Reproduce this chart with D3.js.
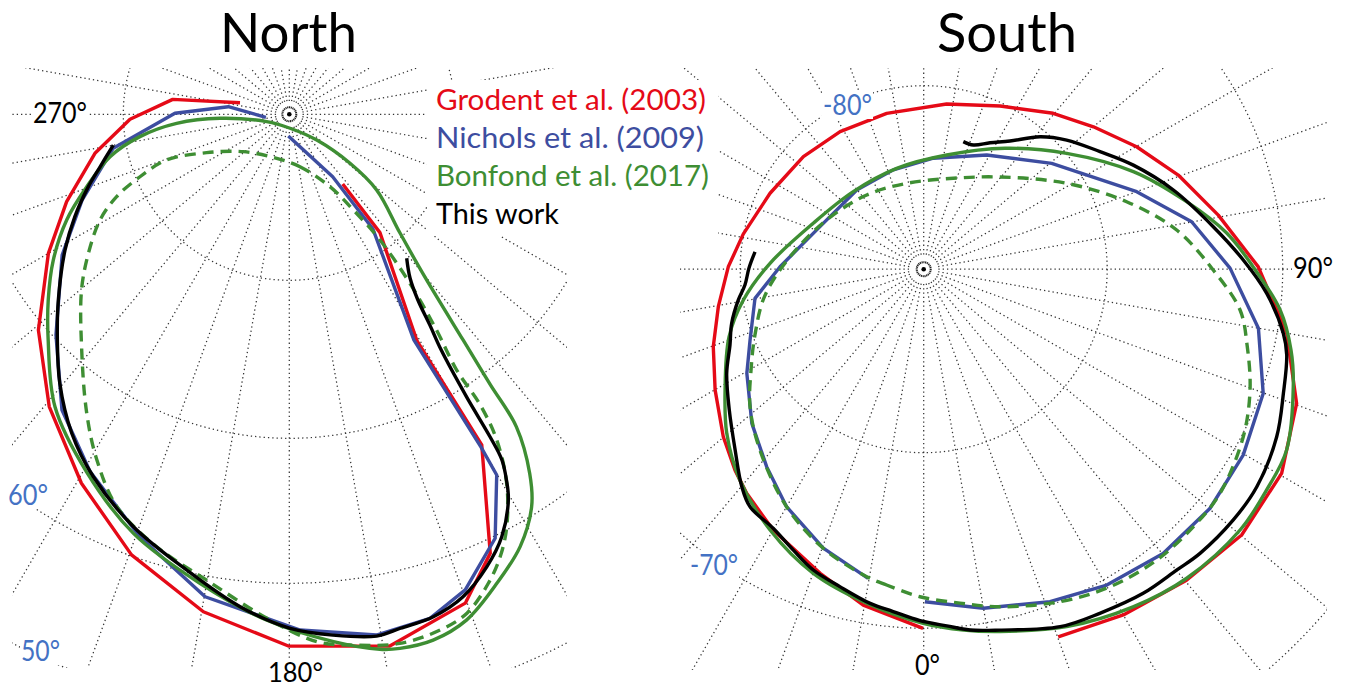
<!DOCTYPE html>
<html><head><meta charset="utf-8">
<script src="https://cdn.jsdelivr.net/npm/d3@7"></script>
<style>
html,body{margin:0;padding:0;background:#fff;}
svg{display:block;}
text{font-family:Lato,"Open Sans",sans-serif;}
</style>
</head><body>
<svg id="chart" width="1346" height="688"></svg>
<script>
// ---------------- DATA (longitude °, latitude °) ----------------
const seriesNames = ["Grodent et al. (2003)", "Nichols et al. (2009)", "Bonfond et al. (2017)", "This work"];
const meridianLons = d3.range(0, 360, 10);
const northLatTicks = [80, 70, 60, 50];
const southLatTicks = [-80, -70, -60];
const northLonLabels = ["270°", "180°"];
const northLatLabels = ["60°", "50°"];
const southLonLabels = ["90°", "0°"];
const southLatLabels = ["-80°", "-70°"];

const northGrodent = [[283.2,86.95],[277.3,82.92],[268.2,80.40],[258.65,77.96],[248.6,75.37],[240.0,72.90],[229.3,69.52],[219.4,66.26],[209.4,63.14],[199.7,60.07],[189.8,57.20],[180.1,55.10],[169.3,54.36],[160.2,56.05],[155.4,58.93],[149.8,65.96],[150.6,74.04],[142.55,81.02],[142.55,84.71]];
const northNichols = [[262.7,88.58],[277.1,86.30],[270.5,83.11],[259.1,79.16],[247.5,76.31],[238.2,73.59],[226.6,70.18],[217.55,66.62],[209.1,64.12],[199.45,61.43],[189.9,58.38],[178.8,56.34],[170.5,55.39],[164.4,55.76],[159.7,57.02],[154.1,59.82],[150.1,63.65],[150.05,65.86],[151.1,74.18],[143.9,81.45],[145.2,85.42],[182.6,88.69]];
const northBonfond = [[177.1,89.16],[133.2,87.73],[128.9,85.30],[130.9,83.04],[137.0,80.22],[140.2,77.09],[142.4,72.48],[143.35,69.16],[144.0,65.70],[146.2,62.54],[148.3,60.54],[151.9,58.35],[156.1,56.58],[160.7,54.77],[164.7,54.05],[168.3,54.03],[170.4,54.25],[175.2,55.30],[182.6,57.09],[190.8,59.34],[200.4,61.51],[209.6,64.01],[218.7,66.50],[226.9,69.57],[232.4,71.25],[238.3,72.95],[244.6,74.91],[250.3,76.89],[256.7,78.85],[261.5,80.90],[265.4,83.19],[266.7,85.82],[251.9,88.57]];
const northBonfondDashed = [[196.0,87.24],[168.5,86.78],[150.7,85.0],[146.2,83.07],[144.2,80.66],[144.5,77.36],[145.7,73.97],[146.8,71.16],[146.7,68.37],[147.5,65.72],[149.5,62.81],[152.2,60.19],[154.5,58.36],[157.0,56.84],[160.4,55.27],[163.7,54.66],[168.2,54.41],[173.5,54.91],[177.0,55.38],[182.6,57.25],[190.1,59.69],[197.05,61.15],[203.7,62.78],[209.1,65.06],[214.1,67.43],[221.8,70.78],[229.8,73.29],[235.3,75.04],[240.8,76.78],[244.5,78.40],[247.3,80.25],[249.6,82.12],[245.1,84.51],[230.9,86.43]];
const northThisWork = [[140.8,78.75],[143.6,77.63],[145.3,76.21],[146.3,74.47],[147.2,72.77],[147.9,69.34],[148.1,66.15],[148.4,64.37],[149.3,63.01],[150.4,61.76],[153.3,59.70],[156.4,58.08],[160.2,56.58],[164.0,55.81],[167.8,55.56],[170.5,55.31],[175.2,55.81],[179.9,56.48],[185.7,57.98],[192.7,60.13],[200.7,61.94],[208.4,63.93],[214.3,65.72],[220.5,67.97],[225.8,70.03],[231.2,71.75],[238.8,73.91],[244.5,75.47],[250.2,76.99],[254.5,78.08],[260.1,79.20]];

const southGrodent = [[359.9,-69.99],[349.8,-71.01],[341.2,-72.15],[330.0,-73.30],[321.7,-74.18],[316.8,-74.75],[309.9,-75.57],[300.1,-76.72],[290.2,-77.68],[280.35,-78.56],[269.3,-79.32],[259.0,-79.98],[243.7,-80.66],[226.9,-81.02],[211.3,-81.23],[193.35,-81.27],[172.1,-80.91],[154.9,-80.18],[140.3,-78.91],[130.0,-77.83],[119.9,-76.46],[110.3,-74.99],[100.4,-73.39],[90.4,-71.39],[80.0,-69.43],[70.2,-67.79],[60.3,-66.86],[50.1,-66.72],[40.2,-67.15],[30.0,-67.62],[20.1,-68.08]];
const southNichols = [[0.2,-71.51],[10.0,-70.84],[20.8,-70.19],[30.1,-69.64],[40.1,-69.25],[50.1,-69.17],[59.8,-69.37],[69.9,-69.85],[80.0,-71.09],[90.2,-73.00],[100.05,-74.95],[110.0,-77.54],[129.6,-80.95],[151.1,-82.89],[175.05,-83.93],[197.0,-84.34],[220.2,-84.35],[247.7,-83.89],[269.0,-82.17],[279.8,-80.67],[292.2,-79.77],[300.5,-78.76],[311.9,-77.30],[321.5,-76.08],[330.0,-74.83],[340.2,-73.56],[349.8,-72.56]];
const southBonfond = [[359.9,-70.28],[350.3,-71.15],[340.05,-72.02],[329.5,-73.21],[318.9,-74.52],[309.8,-75.85],[301.3,-77.21],[289.2,-78.71],[279.7,-80.03],[267.8,-81.62],[247.4,-83.48],[222.25,-84.29],[195.0,-84.31],[168.6,-83.65],[146.1,-82.06],[129.0,-79.97],[114.95,-77.28],[104.4,-74.99],[96.8,-73.07],[90.4,-71.68],[83.5,-70.02],[77.6,-68.99],[72.4,-68.30],[63.5,-67.25],[57.2,-67.11],[50.5,-66.98],[40.4,-67.23],[31.8,-67.73],[21.8,-68.46],[11.9,-69.33],[6.3,-69.76]];
const southBonfondDashed = [[359.35,-71.79],[353.3,-72.34],[349.5,-72.64],[340.2,-73.56],[330.0,-74.83],[317.8,-76.56],[308.4,-77.83],[300.3,-79.06],[291.3,-80.13],[279.6,-81.21],[264.7,-82.68],[243.1,-84.07],[217.5,-84.90],[191.2,-85.23],[162.0,-84.79],[140.4,-83.48],[121.0,-80.91],[108.4,-78.27],[98.8,-75.87],[89.8,-73.95],[82.65,-72.28],[76.8,-71.53],[69.7,-70.63],[62.3,-69.89],[52.9,-69.26],[46.3,-69.18],[38.7,-69.19],[30.4,-69.46],[22.3,-69.98],[12.7,-70.74],[6.2,-71.32]];
const southThisWork = [[264.1,-80.76],[269.6,-80.48],[275.05,-80.22],[279.4,-79.75],[285.7,-79.09],[291.4,-78.60],[297.85,-77.76],[305.9,-76.78],[313.8,-75.57],[320.1,-74.30],[323.8,-73.69],[329.9,-73.38],[335.1,-72.81],[339.85,-72.20],[345.2,-71.75],[350.9,-71.17],[354.9,-70.87],[359.4,-70.43],[3.7,-70.09],[7.3,-69.72],[11.9,-69.42],[20.9,-68.60],[27.1,-68.37],[34.1,-68.08],[40.1,-67.98],[44.2,-67.79],[51.0,-67.67],[56.85,-67.70],[64.6,-68.12],[71.0,-68.73],[76.7,-69.17],[79.9,-69.63],[86.0,-70.87],[91.65,-72.24],[98.35,-73.78],[107.6,-75.53],[116.4,-77.12],[123.7,-78.38],[132.1,-79.48],[138.7,-80.39],[146.05,-81.58],[152.3,-82.22],[158.2,-82.71],[162.75,-82.72]];

// ---------------- LAYOUT / STYLE ----------------
const colors = {red:"#E50A17", blue:"#3D4DA0", green:"#3E8E33", black:"#000000", axisBlue:"#4472C4"};
const svg = d3.select("#chart");

function polar(cfg) {
  const r = d3.scaleLinear().domain(cfg.latDomain).range(cfg.rRange);
  const p = ([lon, lat]) => {
    const a = (cfg.sign * lon + cfg.offset) * Math.PI / 180, rr = r(lat);
    return [cfg.cx + rr * Math.cos(a), cfg.cy + rr * Math.sin(a)];
  };
  p.r = r; p.cx = cfg.cx; p.cy = cfg.cy;
  return p;
}
const PN = polar({cx:289.3, cy:114.3, latDomain:[90,80,70,60,50], rRange:[0,166,324,469,597], sign:1, offset:-90});
const PS = polar({cx:923.7, cy:269.2, latDomain:[-90,-80,-70,-60], rRange:[0,183.5,359,528], sign:-1, offset:90});

const defs = svg.append("defs");
defs.append("clipPath").attr("id","clipN").append("rect").attr("x",12).attr("y",68).attr("width",555).attr("height",600);
defs.append("clipPath").attr("id","clipS").append("rect").attr("x",680).attr("y",68).attr("width",647).attr("height",602);

function drawGrid(P, clipId, latTicks, latInner, latOuter) {
  const g = svg.append("g").attr("clip-path", `url(#${clipId})`)
    .attr("fill","none").attr("stroke","#333").attr("stroke-width",1.25).attr("stroke-dasharray","1.3 3");
  g.selectAll("circle").data(latTicks).join("circle")
    .attr("cx",P.cx).attr("cy",P.cy).attr("r",d=>P.r(d));
  g.selectAll("line").data(meridianLons).join("line")
    .attr("x1",d=>P([d,latInner])[0]).attr("y1",d=>P([d,latInner])[1])
    .attr("x2",d=>P([d,latOuter])[0]).attr("y2",d=>P([d,latOuter])[1]);
  svg.append("circle").attr("cx",P.cx).attr("cy",P.cy).attr("r",7)
    .attr("fill","none").attr("stroke","#222").attr("stroke-width",2).attr("stroke-dasharray","1.2 0.6");
  svg.append("circle").attr("cx",P.cx).attr("cy",P.cy).attr("r",2.3).attr("fill","#000");
}
drawGrid(PN, "clipN", northLatTicks, 89.2, 50);
drawGrid(PS, "clipS", southLatTicks, -89.2, -60);

// legend background (hides grid)
svg.append("rect").attr("x",427).attr("y",80).attr("width",291).attr("height",156).attr("fill","#fff");

function drawSeries(P, data, color, opts) {
  const line = d3.line().x(d=>P(d)[0]).y(d=>P(d)[1]).curve(opts.curve || d3.curveLinear);
  svg.append("path").datum(data).attr("d", line)
    .attr("fill","none").attr("stroke",color).attr("stroke-width",3.4)
    .attr("stroke-linejoin","round").attr("stroke-dasharray", opts.dash || null);
}
[[PN, northGrodent, northNichols, northBonfondDashed, northBonfond, northThisWork],
 [PS, southGrodent, southNichols, southBonfondDashed, southBonfond, southThisWork]].forEach(([P, gr, ni, bd, bo, tw]) => {
  drawSeries(P, gr, colors.red, {});
  drawSeries(P, ni, colors.blue, {});
  drawSeries(P, bd, colors.green, {curve:d3.curveCatmullRomClosed.alpha(0.5), dash:"11 7"});
  drawSeries(P, bo, colors.green, {curve:d3.curveCatmullRomClosed.alpha(0.5)});
  drawSeries(P, tw, colors.black, {curve:d3.curveCatmullRom.alpha(0.5)});
});

// text helper
function label(txt, x, y, size, color, width, bg) {
  const g = svg.append("g");
  const t = g.append("text").attr("x",x).attr("y",y).attr("font-size",size).attr("fill",color).text(txt);
  if (width) t.attr("textLength",width).attr("lengthAdjust","spacingAndGlyphs");
  if (bg) {
    const b = t.node().getBBox();
    g.insert("rect","text").attr("x",b.x-1).attr("y",b.y+3).attr("width",b.width+2).attr("height",b.height-5).attr("fill","#fff");
  }
  return t;
}
// titles
label("North", 220, 52, 54, "#000", 137);
label("South", 937, 52, 54, "#000", 140);
// legend
const legendColors = [colors.red, colors.blue, colors.green, colors.black];
const legendWidths = [270, 268, 273, 123];
seriesNames.forEach((n,i) => label(n, 436, [109.5,148,186,224][i], 29, legendColors[i], legendWidths[i]));
// axis labels
label(northLonLabels[0], 33, 123, 28, "#000", 54, true);
label(northLonLabels[1], 268, 682, 27, "#000", 55, true);
label(northLatLabels[0], 8, 505, 28, colors.axisBlue, 40, true);
label(northLatLabels[1], 21, 661, 28, colors.axisBlue, 39, true);
label(southLonLabels[0], 1293, 278, 28, "#000", 40, true);
label(southLonLabels[1], 915, 675, 28, "#000", 25, true);
label(southLatLabels[0], 823, 115, 28, colors.axisBlue, 49, true);
label(southLatLabels[1], 690, 575, 28, colors.axisBlue, 48, true);
</script>
</body></html>
